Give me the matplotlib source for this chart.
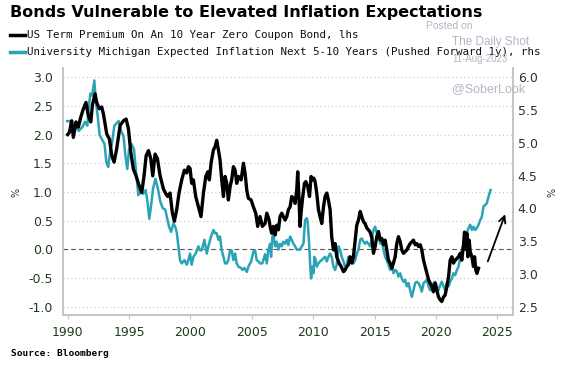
import matplotlib
matplotlib.use("Agg")
import matplotlib.pyplot as plt
from matplotlib.lines import Line2D

# US term premium, 10y zero coupon (lhs, %)
black_year = [1990.00, 1990.14, 1990.33, 1990.46, 1990.68, 1990.87, 1991.06, 1991.28, 1991.49, 1991.68,
              1991.88, 1992.01, 1992.23, 1992.36, 1992.58, 1992.77, 1992.91, 1993.18, 1993.40, 1993.59,
              1993.78, 1993.99, 1994.27, 1994.54, 1994.76, 1994.95, 1995.14, 1995.35, 1995.57, 1995.82,
              1996.03, 1996.22, 1996.39, 1996.58, 1996.77, 1996.93, 1997.12, 1997.31, 1997.53, 1997.80,
              1998.02, 1998.15, 1998.34, 1998.53, 1998.69, 1998.88, 1999.07, 1999.29, 1999.51, 1999.70,
              1999.83, 1999.97, 2000.10, 2000.24, 2000.43, 2000.65, 2000.86, 2001.06, 2001.25, 2001.41,
              2001.54, 2001.68, 2001.87, 2002.01, 2002.14, 2002.28, 2002.41, 2002.55, 2002.69, 2002.82,
              2002.96, 2003.09, 2003.23, 2003.36, 2003.50, 2003.64, 2003.77, 2003.91, 2004.13, 2004.32,
              2004.45, 2004.59, 2004.72, 2004.94, 2005.13, 2005.32, 2005.48, 2005.67, 2005.86, 2006.08,
              2006.22, 2006.41, 2006.49, 2006.62, 2006.76, 2006.90, 2007.03, 2007.17, 2007.30, 2007.44,
              2007.57, 2007.71, 2007.85, 2007.98, 2008.12, 2008.25, 2008.39, 2008.53, 2008.66, 2008.74,
              2008.85, 2008.93, 2009.01, 2009.12, 2009.29, 2009.40, 2009.56, 2009.70, 2009.83, 2009.94,
              2010.05, 2010.16, 2010.29, 2010.43, 2010.56, 2010.70, 2010.84, 2010.97, 2011.11, 2011.24,
              2011.38, 2011.51, 2011.65, 2011.79, 2011.92, 2012.11, 2012.28, 2012.47, 2012.60, 2012.74,
              2012.87, 2013.01, 2013.15, 2013.28, 2013.42, 2013.55, 2013.69, 2013.83, 2013.96, 2014.10,
              2014.23, 2014.37, 2014.50, 2014.64, 2014.78, 2014.91, 2015.05, 2015.18, 2015.32, 2015.46,
              2015.59, 2015.73, 2015.86, 2016.00, 2016.13, 2016.27, 2016.41, 2016.54, 2016.68, 2016.81,
              2016.95, 2017.09, 2017.22, 2017.36, 2017.49, 2017.63, 2017.77, 2017.90, 2018.04, 2018.17,
              2018.31, 2018.44, 2018.58, 2018.72, 2018.85, 2018.99, 2019.12, 2019.26, 2019.40, 2019.53,
              2019.67, 2019.80, 2019.94, 2020.07, 2020.21, 2020.35, 2020.48, 2020.62, 2020.75, 2020.89,
              2021.03, 2021.16, 2021.30, 2021.43, 2021.57, 2021.71, 2021.84, 2021.98, 2022.11, 2022.25,
              2022.33, 2022.44, 2022.52, 2022.60, 2022.71, 2022.79, 2022.93, 2023.06, 2023.15, 2023.25,
              2023.34, 2023.47]
black_val = [2.00, 2.04, 2.24, 1.95, 2.22, 2.13, 2.30, 2.45, 2.56, 2.33,
             2.22, 2.51, 2.71, 2.56, 2.45, 2.48, 2.36, 2.01, 1.92, 1.63,
             1.52, 1.75, 2.16, 2.24, 2.27, 2.10, 1.69, 1.40, 1.28, 1.11,
             0.99, 1.28, 1.63, 1.72, 1.58, 1.28, 1.66, 1.58, 1.28, 1.05,
             0.96, 0.92, 0.98, 0.63, 0.49, 0.69, 0.98, 1.21, 1.38, 1.33,
             1.44, 1.41, 1.15, 1.21, 0.92, 0.74, 0.57, 0.98, 1.27, 1.35,
             1.21, 1.50, 1.73, 1.79, 1.90, 1.73, 1.56, 1.21, 0.92, 1.27,
             1.15, 0.86, 1.09, 1.21, 1.44, 1.38, 1.15, 1.27, 1.21, 1.50,
             1.33, 1.03, 0.89, 0.86, 0.74, 0.63, 0.40, 0.57, 0.40, 0.45,
             0.63, 0.51, 0.40, 0.28, 0.40, 0.25, 0.42, 0.34, 0.57, 0.63,
             0.57, 0.51, 0.57, 0.69, 0.74, 0.92, 0.89, 0.80, 1.03, 1.35,
             0.86, 0.40, 0.63, 0.86, 1.15, 1.18, 1.09, 0.92, 1.27, 1.21,
             1.24, 1.18, 0.98, 0.69, 0.57, 0.45, 0.74, 0.92, 0.98, 0.86,
             0.69, 0.22, -0.01, 0.10, -0.13, -0.24, -0.30, -0.39, -0.36, -0.30,
             -0.27, -0.13, -0.24, -0.13, 0.16, 0.42, 0.51, 0.66, 0.57, 0.48,
             0.45, 0.37, 0.34, 0.30, 0.20, -0.07, 0.05, 0.22, 0.31, 0.16,
             0.19, 0.08, 0.16, -0.01, -0.19, -0.24, -0.33, -0.24, -0.13, 0.10,
             0.22, 0.13, -0.01, -0.07, -0.04, -0.01, 0.05, 0.10, 0.13, 0.16,
             0.08, 0.10, 0.05, 0.08, -0.01, -0.19, -0.30, -0.42, -0.53, -0.59,
             -0.65, -0.74, -0.59, -0.71, -0.83, -0.88, -0.91, -0.83, -0.80, -0.65,
             -0.48, -0.19, -0.13, -0.24, -0.19, -0.16, -0.13, -0.07, -0.19, 0.08,
             0.30, 0.00, 0.28, -0.13, 0.16, -0.04, -0.13, -0.30, -0.13, -0.36,
             -0.42, -0.33]

# UMich 5-10y inflation expectations, pushed forward 1y (rhs, %)
teal_year = [1989.95, 1990.20, 1990.40, 1990.65, 1990.90, 1991.20, 1991.40, 1991.60, 1991.70, 1991.85,
             1992.00, 1992.17, 1992.30, 1992.45, 1992.60, 1992.80, 1993.00, 1993.15, 1993.30, 1993.45,
             1993.60, 1993.80, 1994.00, 1994.15, 1994.35, 1994.55, 1994.70, 1994.85, 1995.00, 1995.20,
             1995.40, 1995.55, 1995.75, 1995.95, 1996.15, 1996.35, 1996.50, 1996.65, 1996.80, 1996.95,
             1997.15, 1997.35, 1997.55, 1997.75, 1997.95, 1998.10, 1998.26, 1998.42, 1998.61, 1998.75,
             1998.88, 1999.02, 1999.15, 1999.29, 1999.51, 1999.70, 1999.83, 1999.97, 2000.10, 2000.24,
             2000.43, 2000.65, 2000.78, 2000.92, 2001.14, 2001.33, 2001.46, 2001.68, 2001.87, 2002.01,
             2002.14, 2002.28, 2002.41, 2002.55, 2002.69, 2002.82, 2002.96, 2003.09, 2003.23, 2003.36,
             2003.50, 2003.64, 2003.77, 2003.91, 2004.13, 2004.23, 2004.40, 2004.59, 2004.72, 2004.94,
             2005.13, 2005.27, 2005.40, 2005.54, 2005.67, 2005.86, 2006.08, 2006.22, 2006.35, 2006.49,
             2006.57, 2006.68, 2006.76, 2006.90, 2007.03, 2007.17, 2007.30, 2007.44, 2007.57, 2007.71,
             2007.85, 2007.98, 2008.12, 2008.25, 2008.39, 2008.53, 2008.66, 2008.80, 2008.93, 2009.07,
             2009.21, 2009.34, 2009.48, 2009.56, 2009.67, 2009.75, 2009.83, 2009.94, 2010.02, 2010.10,
             2010.21, 2010.29, 2010.43, 2010.56, 2010.70, 2010.84, 2010.97, 2011.11, 2011.24, 2011.38,
             2011.51, 2011.65, 2011.79, 2011.92, 2012.06, 2012.19, 2012.33, 2012.47, 2012.60, 2012.74,
             2012.87, 2013.01, 2013.15, 2013.28, 2013.42, 2013.55, 2013.69, 2013.83, 2013.96, 2014.10,
             2014.23, 2014.37, 2014.50, 2014.64, 2014.78, 2014.91, 2015.05, 2015.18, 2015.32, 2015.46,
             2015.59, 2015.73, 2015.86, 2016.00, 2016.13, 2016.27, 2016.41, 2016.54, 2016.68, 2016.81,
             2016.95, 2017.09, 2017.22, 2017.36, 2017.49, 2017.63, 2017.77, 2017.90, 2018.04, 2018.17,
             2018.31, 2018.44, 2018.58, 2018.72, 2018.85, 2018.99, 2019.12, 2019.26, 2019.40, 2019.53,
             2019.67, 2019.80, 2019.94, 2020.07, 2020.21, 2020.35, 2020.48, 2020.62, 2020.75, 2020.89,
             2021.03, 2021.16, 2021.30, 2021.43, 2021.57, 2021.71, 2021.84, 2021.98, 2022.11, 2022.25,
             2022.38, 2022.52, 2022.66, 2022.79, 2022.93, 2023.06, 2023.20, 2023.34, 2023.47, 2023.61,
             2023.74, 2023.88, 2024.01, 2024.15, 2024.29, 2024.45]
teal_val = [5.33, 5.33, 5.19, 5.27, 5.18, 5.24, 5.32, 5.26, 5.52, 5.75,
            5.72, 5.95, 5.62, 5.40, 5.12, 5.05, 4.98, 4.70, 4.63, 4.85,
            4.98, 5.26, 5.30, 5.33, 5.18, 5.10, 4.80, 4.60, 4.90, 4.98,
            4.90, 4.60, 4.20, 4.25, 4.22, 4.28, 4.10, 3.84, 4.05, 4.30,
            4.45, 4.30, 4.10, 4.00, 3.98, 3.85, 3.72, 3.64, 3.77, 3.72,
            3.64, 3.42, 3.21, 3.16, 3.21, 3.14, 3.21, 3.31, 3.14, 3.26,
            3.31, 3.42, 3.36, 3.36, 3.52, 3.31, 3.42, 3.57, 3.67, 3.62,
            3.62, 3.52, 3.57, 3.36, 3.26, 3.16, 3.16, 3.21, 3.36, 3.36,
            3.21, 3.31, 3.16, 3.11, 3.09, 3.06, 3.09, 3.03, 3.11, 3.19,
            3.34, 3.36, 3.21, 3.19, 3.16, 3.16, 3.30, 3.16, 3.37, 3.46,
            3.26, 3.57, 3.59, 3.42, 3.49, 3.37, 3.46, 3.42, 3.49, 3.46,
            3.52, 3.44, 3.57, 3.52, 3.46, 3.42, 3.37, 3.37, 3.37, 3.42,
            3.46, 3.82, 3.85, 3.77, 3.46, 3.16, 2.93, 3.11, 3.01, 3.26,
            3.21, 3.11, 3.16, 3.19, 3.21, 3.24, 3.26, 3.19, 3.26, 3.31,
            3.26, 3.11, 3.06, 3.14, 3.42, 3.37, 3.26, 3.19, 3.11, 3.14,
            3.26, 3.21, 3.19, 3.16, 3.21, 3.31, 3.37, 3.52, 3.54, 3.49,
            3.46, 3.49, 3.46, 3.42, 3.52, 3.67, 3.72, 3.62, 3.64, 3.46,
            3.49, 3.37, 3.26, 3.21, 3.14, 3.06, 3.11, 3.01, 3.06, 3.04,
            2.96, 3.01, 2.93, 2.88, 2.91, 2.81, 2.86, 2.75, 2.65, 2.75,
            2.86, 2.88, 2.86, 2.81, 2.73, 2.86, 2.88, 2.91, 2.81, 2.75,
            2.78, 2.86, 2.88, 2.81, 2.75, 2.83, 2.88, 2.81, 2.75, 2.86,
            2.81, 2.88, 2.93, 3.01, 2.98, 3.06, 3.11, 3.25, 3.36, 3.45,
            3.55, 3.63, 3.70, 3.75, 3.67, 3.72, 3.67, 3.70, 3.75, 3.82,
            3.87, 4.03, 4.05, 4.08, 4.18, 4.28]

x_ticks = [1990, 1995, 2000, 2005, 2010, 2015, 2020, 2025]
left_ticks = [-1.0, -0.5, 0.0, 0.5, 1.0, 1.5, 2.0, 2.5, 3.0]
right_ticks = [2.5, 3.0, 3.5, 4.0, 4.5, 5.0, 5.5, 6.0]

label_color = '#1f3b1f'
spine_color = '#c4c4c4'
teal = '#2ba3b6'

fig = plt.figure(figsize=(5.62, 3.72), dpi=100)
ax = fig.add_axes([0.1126, 0.1532, 0.8002, 0.664])
ax2 = ax.twinx()

ax.set_xlim(1989.64, 2026.28)
ax.set_ylim(-1.145, 3.16)
ax2.set_ylim(2.373, 6.14)

ax.set_axisbelow(True)
ax.yaxis.grid(True, linestyle=(0, (1, 2.5)), color='#c8c8c8', lw=0.8)
ax.axhline(0, color='#555555', ls=(0, (4, 3)), lw=0.8, zorder=1)

# teal is drawn in the left axes so the black line stays on top
ax.plot(teal_year, teal_val, color=teal, lw=1.8, transform=ax2.transData, zorder=2)
ax.plot(black_year, black_val, color='black', lw=2.4, zorder=3)

ax.annotate('', xy=(2025.72, 0.657), xytext=(2024.15, -0.256),
            arrowprops=dict(arrowstyle='->', color='black', lw=1.3, mutation_scale=12))

ax.set_xticks(x_ticks)
ax.set_yticks(left_ticks)
ax.set_yticklabels(['%.1f' % v for v in left_ticks])
ax2.set_yticks(right_ticks)
ax2.set_yticklabels(['%.1f' % v for v in right_ticks])

ax.tick_params(axis='y', length=0, pad=7.5, labelsize=9, labelcolor=label_color)
ax2.tick_params(axis='y', length=0, pad=3.5, labelsize=9, labelcolor=label_color)
ax.tick_params(axis='x', length=3, color=spine_color, pad=5, labelsize=9, labelcolor=label_color)

for a in (ax, ax2):
    a.spines['top'].set_visible(False)
    for s in ('left', 'right', 'bottom'):
        a.spines[s].set_color(spine_color)
        a.spines[s].set_linewidth(1.2)

fig.text(17 / 562, 1 - 192 / 372, '%', rotation=90, fontsize=7, ha='center', va='center', color='#333333')
fig.text(552 / 562, 1 - 192 / 372, '%', rotation=90, fontsize=7, ha='center', va='center', color='#333333')

# title and legend
fig.text(10 / 562, 1 - 13 / 372, 'Bonds Vulnerable to Elevated Inflation Expectations',
         fontsize=11.5, fontweight='bold', ha='left', va='center')
fig.add_artist(Line2D([10 / 562, 25 / 562], [1 - 34.5 / 372] * 2, color='black', lw=2.5))
fig.add_artist(Line2D([10 / 562, 25 / 562], [1 - 52 / 372] * 2, color=teal, lw=2.5))
fig.text(27 / 562, 1 - 35 / 372, 'US Term Premium On An 10 Year Zero Coupon Bond, lhs',
         family='DejaVu Sans Mono', fontsize=7.8, ha='left', va='center', color='#111111')
fig.text(27 / 562, 1 - 52 / 372,
         'University Michigan Expected Inflation Next 5-10 Years (Pushed Forward 1y), rhs',
         family='DejaVu Sans Mono', fontsize=7.8, ha='left', va='center', color='#111111')

# watermark
wm = '#b4b4c4'
fig.text(426 / 562, 1 - 26 / 372, 'Posted on', family='Liberation Sans', fontsize=7.5, color=wm, va='center')
fig.text(452 / 562, 1 - 42 / 372, 'The Daily Shot', family='Liberation Sans', fontsize=8.5, color=wm, va='center')
fig.text(452 / 562, 1 - 59 / 372, '11-Aug-2023', family='Liberation Sans', fontsize=7, color=wm, va='center')
fig.text(452 / 562, 1 - 89 / 372, '@SoberLook', family='Liberation Sans', fontsize=9, color=wm, va='center')

fig.text(11 / 562, 1 - 354 / 372, 'Source: Bloomberg', family='DejaVu Sans Mono', fontweight='bold',
         fontsize=6.8, ha='left', va='center')

fig.savefig('out.png', dpi=100)
